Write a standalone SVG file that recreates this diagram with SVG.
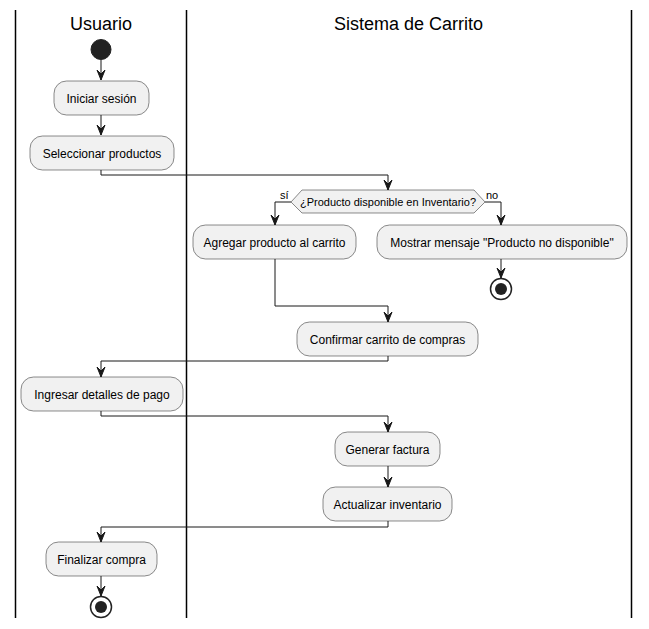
<svg xmlns="http://www.w3.org/2000/svg" width="649" height="629" viewBox="0 0 649 629">
<style>
.lane{stroke:#000;stroke-width:1.5;fill:none}
.title{font-family:"Liberation Sans",Arial,sans-serif;font-size:18px;fill:#000;text-anchor:middle}
.box{fill:#F1F1F1;stroke:#181818;stroke-width:0.5}
.lbl{font-family:"Liberation Sans",Arial,sans-serif;font-size:12px;fill:#000;text-anchor:middle}
.small{font-family:"Liberation Sans",Arial,sans-serif;font-size:11px;fill:#000}
.edge{stroke:#181818;stroke-width:1;fill:none}
.ah{fill:#181818;stroke:#181818;stroke-width:1}
</style>
<defs>
<polygon id="arr" class="ah" points="-4,-10 0,0 4,-10 0,-6"/>
</defs>
<rect width="649" height="629" fill="#fff"/>
<g id="lanes">
<line class="lane" x1="15.5" y1="10" x2="15.5" y2="618"/>
<line class="lane" x1="186.5" y1="10" x2="186.5" y2="618"/>
<line class="lane" x1="631.5" y1="10" x2="631.5" y2="618"/>
<text class="title" x="101" y="30">Usuario</text>
<text class="title" x="408.5" y="30">Sistema de Carrito</text>
</g>
<g id="connectors">
<line class="edge" x1="101" y1="60" x2="101" y2="80"/><use href="#arr" x="101" y="80"/>
<line class="edge" x1="101" y1="115" x2="101" y2="135"/><use href="#arr" x="101" y="135"/>
<polyline class="edge" points="101,170 101,175 388,175 388,190"/><use href="#arr" x="388" y="190"/>
<polyline class="edge" points="291,202 275,202 275,225"/><use href="#arr" x="275" y="225"/>
<polyline class="edge" points="485,202 501,202 501,225"/><use href="#arr" x="501" y="225"/>
<line class="edge" x1="501" y1="259" x2="501" y2="278"/><use href="#arr" x="501" y="278"/>
<polyline class="edge" points="275,259 275,306 388,306 388,322"/><use href="#arr" x="388" y="322"/>
<polyline class="edge" points="388,356 388,361 101,361 101,377"/><use href="#arr" x="101" y="377"/>
<polyline class="edge" points="101,411 101,416 388,416 388,432"/><use href="#arr" x="388" y="432"/>
<line class="edge" x1="388" y1="466" x2="388" y2="487"/><use href="#arr" x="388" y="487"/>
<polyline class="edge" points="388,521 388,527 101,527 101,542"/><use href="#arr" x="101" y="542"/>
<line class="edge" x1="101" y1="576" x2="101" y2="596"/><use href="#arr" x="101" y="596"/>
</g>
<g id="start"><circle cx="101" cy="49.5" r="10" fill="#222" stroke="#222" stroke-width="1"/></g>
<g id="n1"><rect class="box" x="54" y="81" width="95" height="34" rx="12.5"/><text class="lbl" x="101.5" y="102.5">Iniciar sesión</text></g>
<g id="n2"><rect class="box" x="30" y="136" width="144" height="34" rx="12.5"/><text class="lbl" x="102" y="157.5">Seleccionar productos</text></g>
<g id="decision">
<polygon class="box" points="291,202 302,190 474,190 485,202 474,213 302,213"/>
<text class="small" x="388" y="206" text-anchor="middle">¿Producto disponible en Inventario?</text>
<text class="small" x="280" y="199">sí</text>
<text class="small" x="486" y="199">no</text>
</g>
<g id="n3"><rect class="box" x="193" y="225" width="163" height="34" rx="12.5"/><text class="lbl" x="274.5" y="246.5">Agregar producto al carrito</text></g>
<g id="n4"><rect class="box" x="377" y="225" width="250" height="34" rx="12.5"/><text class="lbl" x="502" y="246.5">Mostrar mensaje "Producto no disponible"</text></g>
<g id="end1"><circle cx="501" cy="289" r="10.5" fill="none" stroke="#222" stroke-width="1.5"/><circle cx="501" cy="289" r="6" fill="#222"/></g>
<g id="n5"><rect class="box" x="297" y="322" width="181" height="34" rx="12.5"/><text class="lbl" x="387.5" y="343.5">Confirmar carrito de compras</text></g>
<g id="n6"><rect class="box" x="21" y="377" width="162" height="34" rx="12.5"/><text class="lbl" x="102" y="398.5">Ingresar detalles de pago</text></g>
<g id="n7"><rect class="box" x="335" y="432" width="105" height="34" rx="12.5"/><text class="lbl" x="387.5" y="453.5">Generar factura</text></g>
<g id="n8"><rect class="box" x="323" y="487" width="129" height="34" rx="12.5"/><text class="lbl" x="387.5" y="508.5">Actualizar inventario</text></g>
<g id="n9"><rect class="box" x="46" y="542" width="111" height="34" rx="12.5"/><text class="lbl" x="101.5" y="563.5">Finalizar compra</text></g>
<g id="end2"><circle cx="101" cy="607" r="10.5" fill="none" stroke="#222" stroke-width="1.5"/><circle cx="101" cy="607" r="6" fill="#222"/></g>
</svg>
